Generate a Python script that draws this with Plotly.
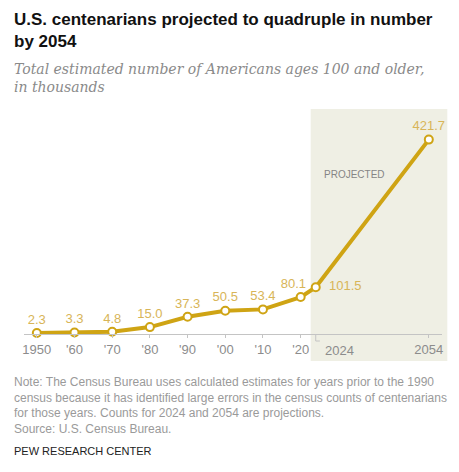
import plotly.graph_objects as go

years = [1950, 1960, 1970, 1980, 1990, 2000, 2010, 2020, 2024, 2054]
values = [2.3, 3.3, 4.8, 15.0, 37.3, 50.5, 53.4, 80.1, 101.5, 421.7]
labels = ["2.3", "3.3", "4.8", "15.0", "37.3", "50.5", "53.4", "80.1\u00a0\u00a0\u00a0\u00a0",
          "\u00a0\u00a0101.5", "421.7"]
label_pos = ["top center"] * 8 + ["middle right", "top center"]
tick_vals = [1950, 1960, 1970, 1980, 1990, 2000, 2010, 2020, 2054]
tick_text = ["1950", "'60", "'70", "'80", "'90", "'00", "'10", "'20", "2054"]
proj_start = 2024

W, H = 459, 472
ML, MR, MT, MB = 24, 17, 100, 138
PW = W - ML - MR
PH = H - MT - MB

def px_x(p):
    return (p - ML) / PW

def px_y(p):
    return (H - MB - p) / PH

GOLD = "#cfa414"
LABEL = "#d8b558"
GRAY = "#8c8c8c"

fig = go.Figure()
fig.add_trace(go.Scatter(
    x=years, y=values, mode="lines+markers+text",
    text=labels, textposition=label_pos,
    textfont=dict(family="Liberation Sans", size=13, color=LABEL),
    line=dict(color=GOLD, width=4),
    marker=dict(size=8, color="white", line=dict(color=GOLD, width=2)),
    cliponaxis=False, hoverinfo="skip",
))

fig.update_layout(
    width=W, height=H,
    margin=dict(l=ML, r=MR, t=MT, b=MB, pad=0),
    paper_bgcolor="white", plot_bgcolor="rgba(0,0,0,0)",
    showlegend=False,
    xaxis=dict(range=[1946.6, 2057.5], tickvals=tick_vals, ticktext=tick_text,
               showgrid=False, zeroline=False, showline=True, linecolor="#c4c4c4",
               linewidth=1, ticks="outside", ticklen=3, tickcolor="#c4c4c4",
               tickfont=dict(family="Liberation Sans", size=13, color=GRAY),
               fixedrange=True),
    yaxis=dict(range=[0, 507.6], visible=False, fixedrange=True),
)

shapes = [
    dict(type="rect", xref="paper", yref="paper",
         x0=px_x(310.7), x1=px_x(447.3), y0=px_y(361), y1=px_y(109),
         fillcolor="#efefe4", line=dict(width=0), layer="below"),
    dict(type="path", xref="x", yref="paper",
         path=f"M {proj_start},0 L {proj_start},{-7/PH} L {proj_start+1.1},{-7/PH}",
         line=dict(color="#c4c4c4", width=1)),
]
fig.update_layout(shapes=shapes)

ann = []
ann.append(dict(text="<b>U.S. centenarians projected to quadruple in number<br>by 2054</b>",
                x=px_x(12), y=px_y(8), xref="paper", yref="paper", xanchor="left", yanchor="top",
                align="left", showarrow=False,
                font=dict(family="Liberation Sans", size=17, color="#111111")))
ann.append(dict(text="<i>Total estimated number of Americans ages 100 and older,<br>in thousands</i>",
                x=px_x(12), y=px_y(59), xref="paper", yref="paper", xanchor="left", yanchor="top",
                align="left", showarrow=False,
                font=dict(family="DejaVu Serif", size=14, color="#8a8a8a")))
ann.append(dict(text="PROJECTED", x=px_x(321.7), y=px_y(174), xref="paper", yref="paper",
                xanchor="left", yanchor="middle", showarrow=False,
                font=dict(family="Liberation Sans", size=10, color="#858585")))
ann.append(dict(text="2024", x=proj_start, y=px_y(350), xref="x", yref="paper",
                xanchor="left", yanchor="middle", xshift=7, showarrow=False,
                font=dict(family="Liberation Sans", size=13, color=GRAY)))
note = ("Note: The Census Bureau uses calculated estimates for years prior to the 1990<br>"
        "census because it has identified large errors in the census counts of centenarians<br>"
        "for those years. Counts for 2024 and 2054 are projections.<br>"
        "Source: U.S. Census Bureau.")
ann.append(dict(text=note, x=px_x(12), y=px_y(373), xref="paper", yref="paper",
                xanchor="left", yanchor="top", align="left", showarrow=False,
                font=dict(family="Liberation Sans", size=12, color="#9a9a9a")))
ann.append(dict(text="PEW RESEARCH CENTER", x=px_x(12), y=px_y(451), xref="paper", yref="paper",
                xanchor="left", yanchor="middle", align="left", showarrow=False,
                font=dict(family="Liberation Sans", size=11, color="#222222")))
fig.update_layout(annotations=ann)

fig.write_html("out.html", config={"displayModeBar": False, "staticPlot": True},
               post_script="document.body.style.margin='0';document.body.style.overflow='hidden';")
